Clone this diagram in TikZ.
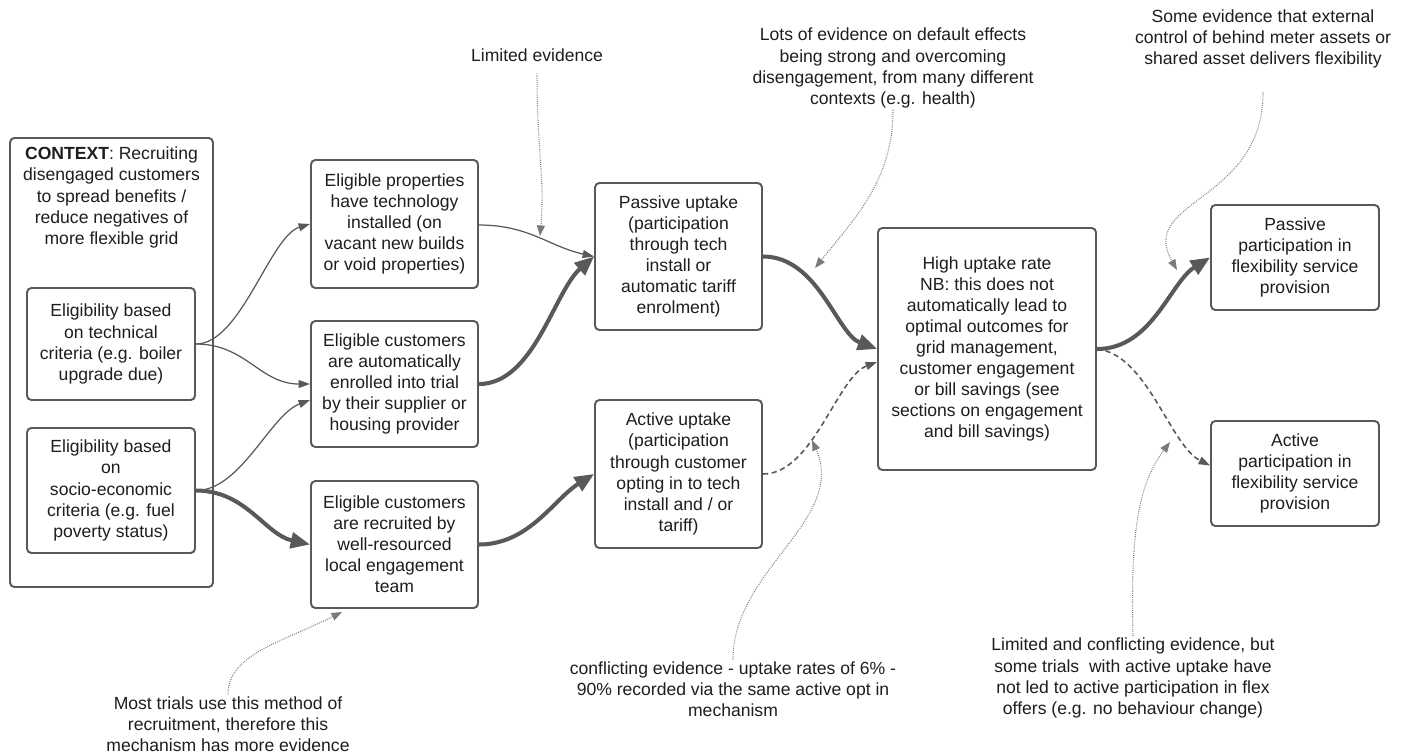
\documentclass[tikz,border=0pt]{standalone}
\usepackage{fontspec}
\setmainfont{Liberation Sans}
\usetikzlibrary{arrows.meta,calc}
\definecolor{ln}{HTML}{595959}
\definecolor{dt}{HTML}{7a7a7a}
\definecolor{tx}{HTML}{1e1e1e}
\begin{document}
\begin{tikzpicture}[x=0.02cm,y=-0.02cm,
 box/.style={draw=ln, line width=1.1pt, rounded corners=2.5pt, align=center, inner sep=0pt, text=tx, font=\fontsize{10}{12}\selectfont, fill=white},
 note/.style={align=center, text=tx, font=\fontsize{10}{12}\selectfont, inner sep=1pt},
 conthin/.style={draw=ln, line width=0.7pt, -{Triangle[length=6.5pt,width=4.5pt]}},
 conthick/.style={draw=ln, line width=2.3pt, -{Triangle[length=11pt,width=9pt]}},
 condash/.style={draw=ln, line width=0.9pt, dash pattern=on 3pt off 2pt, -{Triangle[length=6.5pt,width=4.5pt]}},
 condot/.style={draw=dt, line width=0.6pt, dash pattern=on 0.5pt off 0.7pt, -{Triangle[length=6pt,width=4.5pt]}},
]
\fill[white] (0,0) rectangle (1408,754);
\useasboundingbox (0,0) rectangle (1408,754);

% context
\node[box, minimum width=203*0.02cm, minimum height=449*0.02cm] (ctx) at (111.5,362.5) {};
\node[note, anchor=north] (ctxlabel) at (111.5,145) {\textbf{CONTEXT}: Recruiting\\disengaged customers\\to spread benefits /\\reduce negatives of\\more flexible grid};
\node[box, minimum width=168*0.02cm, minimum height=112*0.02cm] (tech) at (111,344) {Eligibility based\\on technical\\criteria (e.g. boiler\\upgrade due)};
\node[box, minimum width=168*0.02cm, minimum height=125*0.02cm] (socio) at (111,490.5) {Eligibility based\\on\\socio-economic\\criteria (e.g. fuel\\poverty status)};

% second column
\node[box, minimum width=167*0.02cm, minimum height=128*0.02cm] (props) at (394.5,224) {Eligible properties\\have technology\\installed (on\\vacant new builds\\or void properties)};
\node[box, minimum width=167*0.02cm, minimum height=126*0.02cm] (auto) at (394.5,384) {Eligible customers\\are automatically\\enrolled into trial\\by their supplier or\\housing provider};
\node[box, minimum width=167*0.02cm, minimum height=127*0.02cm] (recruited) at (394.5,544.5) {Eligible customers\\are recruited by\\well-resourced\\local engagement\\team};

% third column
\node[box, minimum width=167*0.02cm, minimum height=147*0.02cm] (passive) at (678.5,256.5) {Passive uptake\\(participation\\through tech\\install or\\automatic tariff\\enrolment)};
\node[box, minimum width=167*0.02cm, minimum height=148*0.02cm] (active) at (678.5,474) {Active uptake\\(participation\\through customer\\opting in to tech\\install and / or\\tariff)};

% high uptake
\node[box, minimum width=218*0.02cm, minimum height=242*0.02cm] (high) at (987,349) {High uptake rate\\NB: this does not\\automatically lead to\\optimal outcomes for\\grid management,\\customer engagement\\or bill savings (see\\sections on engagement\\and bill savings)};

% outcomes
\node[box, minimum width=168*0.02cm, minimum height=105*0.02cm] (pp) at (1295,257.5) {Passive\\participation in\\flexibility service\\provision};
\node[box, minimum width=168*0.02cm, minimum height=105*0.02cm] (ap) at (1295,473.5) {Active\\participation in\\flexibility service\\provision};

% annotations
\node[note] (ltd) at (537,55) {Limited evidence};
\node[note] (lots) at (893,68) {Lots of evidence on default effects\\being strong and overcoming\\disengagement, from many different\\contexts (e.g. health)};
\node[note] (some) at (1263,39) {Some evidence that external\\control of behind meter assets or\\shared asset delivers flexibility};
\node[note] (most) at (228,724) {Most trials use this method of\\recruitment, therefore this\\mechanism has more evidence};
\node[note] (confl) at (733,689) {conflicting evidence - uptake rates of 6\% -\\90\% recorded via the same active opt in\\mechanism};
\node[note] (ltdc) at (1133,678) {Limited and conflicting evidence, but\\some trials\ \ with active uptake have\\not led to active participation in flex\\offers (e.g. no behaviour change)};

% connectors
\draw[conthin] (tech.east) .. controls +(45,0) and +(-40,12) .. (props.west);
\draw[conthin] (tech.east) .. controls +(50,0) and +(-50,0) .. (auto.west);
\draw[conthin] (socio.east) .. controls +(45,0) and +(-40,15) .. ($(auto.west)+(0,16)$);
\draw[conthick] (socio.east) .. controls +(50,0) and +(-45,-10) .. (recruited.west);
\draw[conthin] ($(props.east)+(0,1)$) .. controls +(50,0) and +(-45,-10) .. (passive.west);
\draw[conthick] (auto.east) .. controls +(55,0) and +(-40,35) .. (passive.west);
\draw[conthick] (recruited.east) .. controls +(50,0) and +(-40,25) .. (active.west);
\draw[conthick] (passive.east) .. controls +(55,0) and +(-40,-15) .. (high.west);
\draw[condash] (active.east) .. controls +(50,0) and +(-40,15) .. ($(high.west)+(0,13)$);
\draw[conthick] (high.east) .. controls +(55,0) and +(-40,25) .. (pp.west);
\draw[condash] (high.east) .. controls +(50,5) and +(-40,-20) .. ($(ap.west)+(0,-8)$);

% annotation pointers
\coordinate (t1) at (540,236);
\coordinate (t2) at (815,268);
\coordinate (t3) at (1177,270);
\coordinate (t4) at (342,612);
\coordinate (t5) at (812,440);
\coordinate (t6) at (1170,442);
\draw[condot] ($(ltd.south)+(0,10)$) .. controls +(0,80) and +(5,-60) .. (t1);
\draw[condot] (lots.south) .. controls +(0,70) and +(40,-50) .. (t2);
\draw[condot] ($(some.south)+(0,22)$) .. controls +(0,110) and +(-40,-70) .. (t3);
\draw[condot] (most.north) .. controls +(0,-40) and +(-60,30) .. (t4);
\draw[condot] (confl.north) .. controls +(0,-90) and +(35,80) .. (t5);
\draw[condot] (ltdc.north) .. controls +(-3,-110) and +(-30,40) .. (t6);
\end{tikzpicture}
\end{document}
